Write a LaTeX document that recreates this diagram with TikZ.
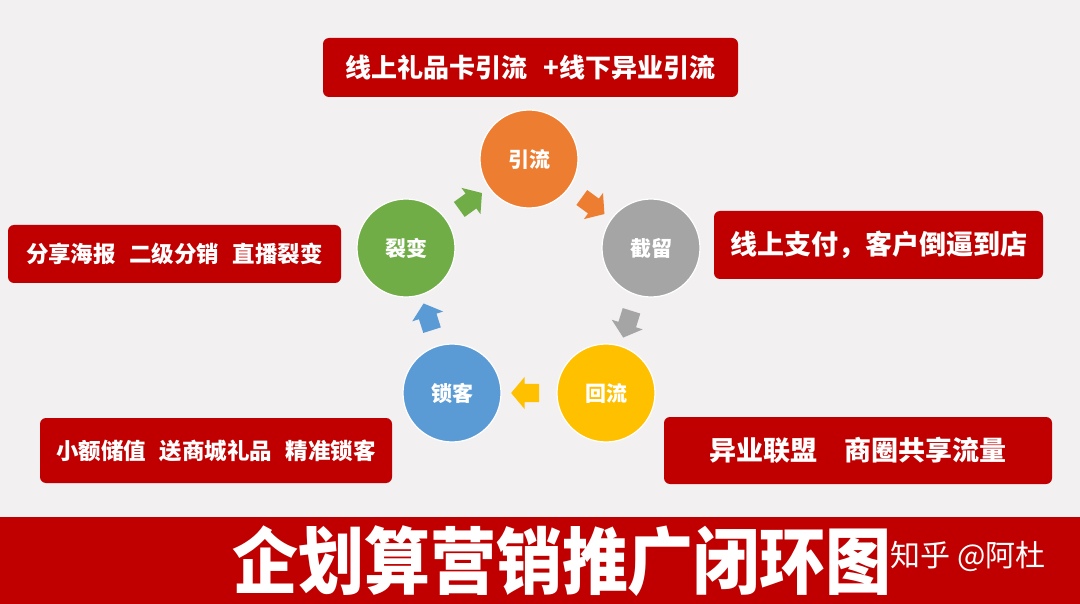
\documentclass[tikz,border=0pt]{standalone}
\usepackage{fontspec}
\newfontfamily\cjk{Noto Sans CJK SC}
\usepackage{tikz}
\usetikzlibrary{shapes,arrows,calc}
\definecolor{pagebg}{HTML}{F2F0F1}
\definecolor{boxred}{HTML}{C00000}
\definecolor{orangeC}{HTML}{ED7D31}
\definecolor{grayC}{HTML}{A5A5A5}
\definecolor{goldC}{HTML}{FFC000}
\definecolor{blueC}{HTML}{5B9BD5}
\definecolor{greenC}{HTML}{70AD47}
\newcommand{\px}[1]{\fontsize{#1}{#1}\selectfont}
\newcommand{\gap}{\hspace{0.6em}}
\begin{document}
\begin{tikzpicture}[x=1pt, y=-1pt,
    tagbox/.style={fill=boxred, rounded corners=6pt, text=white, font=\cjk\bfseries, inner sep=0pt},
    stage/.style={circle, draw=white, line width=1.2pt, minimum size=98pt, inner sep=0pt, text=white, font=\cjk\bfseries\px{21}},
    turn/.style={single arrow, inner xsep=0pt, inner ysep=9pt, minimum height=28pt, single arrow head extend=7pt, single arrow tip angle=100}]
\fill[pagebg] (0,0) rectangle (1080,604);
\useasboundingbox (0,0) rectangle (1080,604);
\fill[boxred] (0,517) rectangle (1080,604);
\node[stage, fill=orangeC] (yl) at (529,159) {引流};
\node[stage, fill=grayC] (jl) at (651,248) {截留};
\node[stage, fill=goldC] (hl) at (606,393) {回流};
\node[stage, fill=blueC] (sk) at (452,393) {锁客};
\node[stage, fill=greenC] (lb) at (406,248) {裂变};
\foreach \from/\to/\col in {yl/jl/orangeC, jl/hl/grayC, hl/sk/goldC, sk/lb/blueC, lb/yl/greenC}
  \path let \p1=($(\to)-(\from)$), \n1={atan2(\y1,\x1)} in
    node[turn, fill=\col, rotate=\n1] (\from-\to) at ($(\from)!0.5!(\to)$) {};
\node[tagbox, minimum width=415pt, minimum height=59pt, font=\cjk\bfseries\px{26}] (top) at (530.5,67.5) {线上礼品卡引流\gap+线下异业引流};
\node[tagbox, minimum width=333pt, minimum height=58pt, font=\cjk\bfseries\px{22.5}] (left) at (174.5,254) {分享海报\gap 二级分销\gap 直播裂变};
\node[tagbox, minimum width=329pt, minimum height=68pt, font=\cjk\bfseries\px{27}] (right) at (878.5,245) {线上支付，客户倒逼到店};
\node[tagbox, minimum width=352pt, minimum height=65pt, font=\cjk\bfseries\px{22.5}] (botleft) at (216,450.5) {小额储值\gap 送商城礼品\gap 精准锁客};
\node[tagbox, minimum width=388pt, minimum height=67pt, font=\cjk\bfseries\px{27}] (botright) at (858,450.5) {异业联盟\quad 商圈共享流量};
\node[text=white, font=\cjk\bfseries\px{66}, inner sep=0pt] (title) at (562,561) {\scalebox{1}[1.1]{企划算营销推广闭环图}};
\node[text=white, font=\cjk\px{30}, inner sep=0pt] (mark) at (968,556) {知乎 @阿杜};
\end{tikzpicture}
\end{document}
